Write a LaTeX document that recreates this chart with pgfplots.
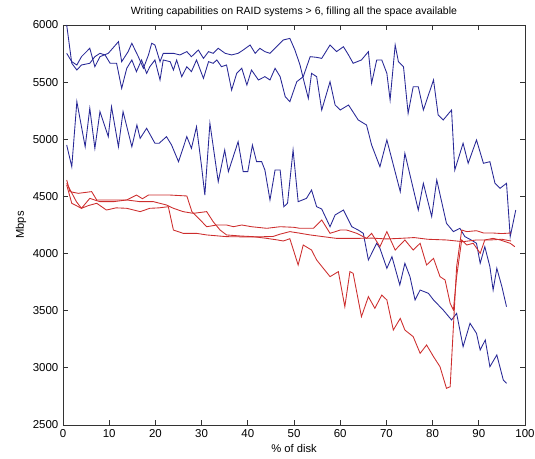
\documentclass[border=0pt]{standalone}
\usepackage{pgfplots}
\pgfplotsset{compat=1.18}
\usepackage{fontspec}
\setmainfont{Liberation Sans}
\usetikzlibrary{calc}
\definecolor{mlBlue}{RGB}{40,40,150}
\definecolor{mlRed}{RGB}{205,45,45}
\begin{document}
\begin{tikzpicture}
\begin{axis}[
  scale only axis,
  width=346.5pt, height=300pt,
  xmin=0, xmax=100, ymin=2500, ymax=6000,
  xtick={0,10,...,100}, ytick={2500,3000,...,6000},
  tick align=inside, tick pos=both,
  major tick length=3.5pt,
  axis line style={black!80, line width=0.6pt},
  every tick/.style={black!80, line width=0.6pt},
  /pgf/number format/assume math mode=true,
  /pgf/number format/set thousands separator={},
  ticklabel style={font=\fontsize{8.6}{9}\selectfont},
  label style={font=\fontsize{8.4}{9}\selectfont},
  title style={font=\fontsize{7.9}{9}\selectfont, yshift=-3pt},
  title={Writing capabilities on RAID systems > 6, filling all the space available},
  xlabel={\% of disk}, ylabel={Mbps},
  xlabel style={yshift=2pt}, ylabel style={yshift=-2pt},
  every axis plot/.append style={line width=0.65pt},
]
% upper blue on the left, middle blue on the right
\addplot[mlBlue] coordinates {
(0.8,5752) (1.9,5679) (3.0,5650) (4.0,5723) (5.8,5796) (6.9,5635) (8.0,5723) (9.8,5752)
(12.0,5854) (12.7,5679) (14.1,5767) (14.9,5840) (16.3,5723) (17.4,5621) (18.5,5738) (19.2,5840)
(19.9,5825) (21.0,5679) (21.7,5752) (22.8,5752) (23.9,5752) (25.3,5738) (26.8,5767) (27.8,5723)
(29.3,5781) (30.4,5708) (31.5,5767) (32.5,5752) (33.6,5796) (35.1,5752) (36.5,5738) (37.9,5752)
(39.0,5781) (40.5,5825) (41.6,5752) (42.6,5796) (43.7,5767) (44.8,5752) (46.2,5810) (47.7,5869)
(49.1,5883) (50.2,5781) (51.3,5650) (52.0,5533) (53.1,5358) (53.8,5577) (54.9,5548) (56.0,5256)
(57.8,5504) (58.9,5300) (60.0,5256) (61.8,5300) (63.9,5169) (65.7,5125) (66.8,4950) (68.6,4760)
(70.1,4994) (73.0,4542) (74.0,4877) (76.9,4381) (78.0,4615) (79.8,4323) (80.9,4644) (83.0,4265)
(84.5,4192) (85.9,4221) (87.0,4148) (88.3,4120) (89.5,4090) (90.3,3915) (91.3,4060) (92.4,3885)
(93.1,3681) (93.9,3871) (95.0,3710) (96.0,3535)
};
% second blue on the left, upper blue on the right
\addplot[mlBlue] coordinates {
(0.8,6000) (1.9,5665) (3.0,5606) (4.0,5650) (5.8,5665) (6.9,5723) (8.0,5752) (9.1,5738)
(10.2,5665) (11.6,5665) (12.7,5446) (13.8,5621) (14.9,5694) (15.9,5592) (17.0,5694) (18.1,5577)
(18.8,5635) (19.9,5694) (21.0,5519) (21.7,5694) (23.2,5679) (23.9,5606) (24.6,5694) (25.7,5548)
(26.8,5635) (27.8,5592) (28.9,5694) (30.4,5533) (31.5,5679) (32.5,5665) (33.3,5694) (34.3,5635)
(35.4,5650) (36.5,5431) (37.6,5577) (38.7,5621) (39.8,5475) (40.8,5606) (42.3,5519) (43.7,5548)
(44.8,5519) (45.9,5621) (47.0,5548) (48.1,5373) (49.1,5329) (50.6,5504) (52.0,5548) (53.5,5723)
(54.9,5717) (56.0,5708) (57.8,5825) (59.2,5767) (60.7,5810) (61.8,5738) (62.8,5665) (64.6,5694)
(66.1,5767) (66.8,5490) (67.9,5694) (69.0,5694) (70.1,5577) (70.8,5344) (71.9,5825) (72.6,5679)
(73.7,5635) (74.7,5227) (75.8,5460) (76.9,5460) (78.0,5256) (80.2,5519) (81.2,5213) (82.3,5169)
(84.1,5256) (84.8,4731) (86.6,4965) (87.7,4790) (89.5,4994) (91.0,4790) (92.4,4804) (93.5,4615)
(94.6,4571) (96.0,4615) (96.8,4148) (98.0,4381)
};
% lower blue
\addplot[mlBlue] coordinates {
(0.8,4950) (1.9,4760) (3.0,5329) (4.8,4935) (5.8,5271) (6.9,4921) (8.0,5242) (9.8,5023)
(10.5,5285) (12.0,4935) (13.0,5242) (14.9,4935) (16.0,5125) (16.7,5008) (18.1,5096) (19.9,4965)
(20.8,4965) (22.4,5023) (23.5,4950) (25.0,4804) (26.8,5023) (27.8,4921) (28.9,5110) (30.0,4760)
(30.7,4512) (31.8,5140) (33.6,4629) (35.0,4906) (35.8,4717) (37.9,4979) (39.0,4717) (40.0,4717)
(41.0,4950) (41.9,4804) (43.0,4804) (43.7,4731) (44.8,4469) (45.9,4731) (47.0,4731) (47.8,4410)
(48.6,4440) (49.8,4906) (50.9,4454) (52.7,4483) (53.8,4556) (54.9,4410) (56.0,4390) (57.8,4235)
(58.9,4338) (60.7,4381) (62.5,4235) (63.9,4206) (65.0,4177) (66.1,3944) (67.9,4090) (68.6,4046)
(70.1,3871) (71.2,3973) (72.9,3725) (74.0,3915) (75.1,3798) (76.2,3594) (77.3,3681) (79.1,3652)
(80.2,3594) (82.3,3506) (84.1,3419) (85.2,3477) (86.6,3185) (88.1,3390) (89.5,3302) (90.3,3156)
(91.4,3244) (92.4,3010) (93.9,3113) (95.3,2894) (96.0,2865)
};
% red, dips to about 2800
\addplot[mlRed] coordinates {
(0.8,4615) (2.9,4454) (4.0,4396) (5.8,4483) (8.0,4454) (10.9,4454) (13.8,4469) (16.7,4454)
(19.6,4454) (22.4,4425) (23.9,4396) (26.0,4367) (28.2,4352) (31.1,4367) (32.5,4279) (34.0,4206)
(35.4,4163) (38.3,4154) (41.2,4148) (44.1,4133) (46.3,4120) (47.7,4110) (49.1,4130) (50.9,3900)
(52.0,4075) (53.8,4031) (54.9,3944) (57.8,3798) (59.6,3842) (61.0,3535) (62.1,3842) (62.8,3827)
(64.6,3448) (66.1,3623) (67.5,3521) (69.0,3637) (70.1,3594) (71.5,3331) (73.0,3433) (74.0,3331)
(75.8,3273) (77.3,3127) (78.7,3200) (80.2,3098) (81.6,3010) (83.0,2821) (83.8,2835) (84.5,3360)
(85.2,3885) (86.3,4206) (87.4,4192) (89.5,4200) (91.0,4180) (93.0,4180) (95.0,4175) (97.0,4180)
};
% red, dips to about 3500
\addplot[mlRed] coordinates {
(0.8,4644) (1.5,4542) (3.3,4527) (6.2,4542) (7.3,4469) (9.4,4469) (13.8,4469) (15.9,4512)
(17.2,4480) (18.5,4512) (20.6,4512) (23.2,4512) (26.8,4504) (27.9,4367) (29.7,4294) (31.1,4235)
(33.3,4250) (35.4,4250) (36.9,4235) (38.7,4250) (40.8,4235) (44.1,4221) (47.0,4235) (49.9,4230)
(51.3,4221) (54.2,4221) (56.0,4294) (57.8,4177) (60.0,4206) (61.4,4206) (63.6,4177) (65.7,4133)
(66.8,4177) (68.6,4060) (70.1,4192) (71.9,4031) (74.0,4119) (75.8,4031) (77.3,4090) (78.7,3900)
(80.2,3958) (81.6,3798) (82.7,3769) (83.8,3565) (84.5,3506) (85.2,3798) (86.3,4119) (87.4,4075)
(88.8,4090) (90.3,4002) (91.3,4119) (93.1,4133) (94.6,4119) (96.8,4090) (97.8,4060)
};
% red, step at 24 then flat
\addplot[mlRed] coordinates {
(0.8,4600) (1.9,4440) (4.0,4396) (5.5,4420) (7.3,4440) (9.4,4381) (11.5,4400) (13.8,4396)
(16.7,4367) (18.8,4396) (20.8,4400) (22.8,4410) (23.9,4206) (26.0,4177) (28.9,4177) (31.1,4163)
(35.4,4148) (41.2,4145) (45.5,4150) (47.0,4170) (49.1,4192) (51.0,4180) (53.5,4163) (56.3,4148)
(59.2,4133) (63.6,4133) (67.0,4135) (70.0,4128) (73.0,4133) (76.0,4140) (79.0,4125) (83.0,4119)
(86.6,4104) (89.5,4119) (92.4,4119) (95.0,4125) (97.0,4110)
};
\end{axis}
\pgfresetboundingbox
\path[use as bounding box] ($(current axis.south west)+(-47.25pt,-25.5pt)$) rectangle ($(current axis.north east)+(7.5pt,18.75pt)$);
\end{tikzpicture}
\end{document}
